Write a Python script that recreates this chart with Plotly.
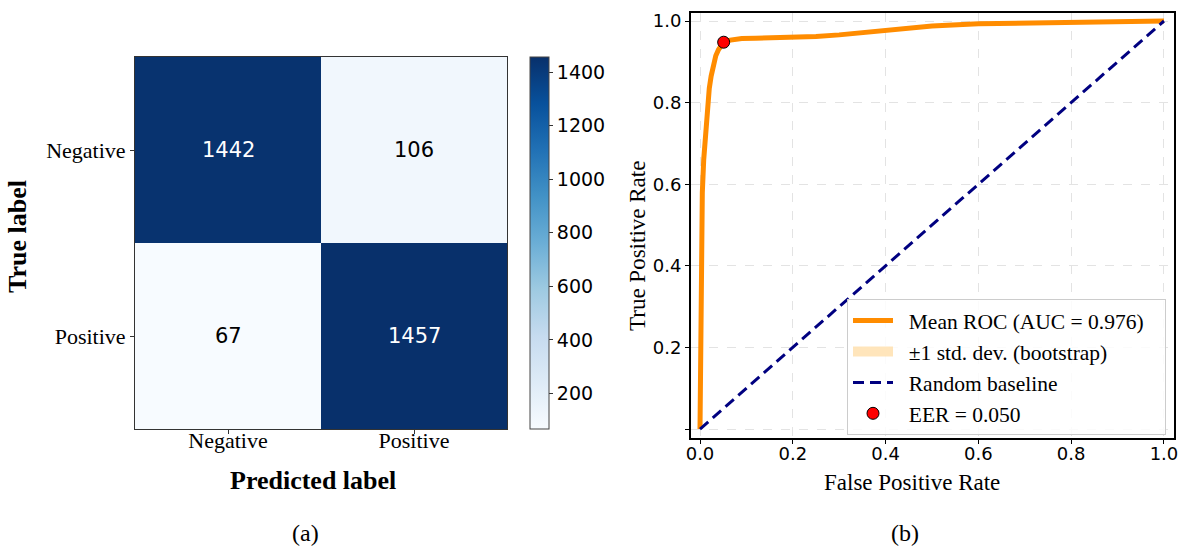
import plotly.graph_objects as go

# ---------------- data ----------------
classes = ["Negative", "Positive"]
conf_matrix = [[1442, 106],
               [67, 1457]]
cbar_ticks = [200, 400, 600, 800, 1000, 1200, 1400]

fpr = [0.0, 0.001, 0.002, 0.003, 0.005, 0.008, 0.011, 0.014, 0.017, 0.020, 0.024,
       0.029, 0.034, 0.040, 0.046, 0.051, 0.058, 0.070, 0.090, 0.12, 0.16, 0.20,
       0.25, 0.30, 0.35, 0.40, 0.45, 0.50, 0.60, 0.70, 0.80, 0.90, 1.0]
tpr_mean = [0.0, 0.15, 0.35, 0.48, 0.58, 0.66, 0.71, 0.76, 0.80, 0.835, 0.865,
            0.895, 0.915, 0.930, 0.941, 0.948, 0.952, 0.955, 0.957, 0.958, 0.959, 0.960,
            0.962, 0.966, 0.972, 0.979, 0.984, 0.988, 0.993, 0.995, 0.996, 0.998, 1.0]
tpr_upper = [0.0, 0.16, 0.36, 0.49, 0.59, 0.67, 0.72, 0.77, 0.81, 0.843, 0.872,
             0.901, 0.920, 0.934, 0.944, 0.951, 0.955, 0.958, 0.960, 0.961, 0.962, 0.963,
             0.965, 0.969, 0.975, 0.982, 0.987, 0.990, 0.995, 0.997, 0.998, 0.999, 1.0]
tpr_lower = [0.0, 0.14, 0.34, 0.47, 0.57, 0.65, 0.70, 0.75, 0.79, 0.827, 0.858,
             0.889, 0.910, 0.926, 0.938, 0.945, 0.949, 0.952, 0.954, 0.955, 0.956, 0.957,
             0.959, 0.963, 0.969, 0.976, 0.981, 0.986, 0.991, 0.993, 0.994, 0.997, 1.0]
baseline = [0.0, 1.0]
eer_point = [0.051, 0.948]
auc_value = 0.976
eer_value = 0.050
roc_ticks = [0.0, 0.2, 0.4, 0.6, 0.8, 1.0]

# ---------------- figure ----------------
W, H = 1182, 548
serif = "Liberation Serif, Times New Roman, serif"
sans = "DejaVu Sans, sans-serif"
band_color = "rgba(255,222,170,0.8)"
lead = "\u00a0\u00a0"
trail = "\u00a0\u00a0\u00a0"

fig = go.Figure()

fig.add_trace(go.Heatmap(
    z=conf_matrix, x=classes, y=classes,
    colorscale="Blues", zmin=67, zmax=1457,
    xaxis="x", yaxis="y", showscale=True,
    colorbar=dict(
        x=530 / W, xanchor="left", xpad=0, ypad=0,
        y=1 - 429 / H, yanchor="bottom", len=372 / H, lenmode="fraction",
        thickness=19, thicknessmode="pixels",
        outlinecolor="#444444", outlinewidth=1,
        tickvals=cbar_ticks, ticks="outside", ticklen=4, tickcolor="#333",
        tickfont=dict(family=sans, size=19, color="black"),
    ),
    hoverinfo="skip", showlegend=False,
))

thresh = (max(max(r) for r in conf_matrix) + min(min(r) for r in conf_matrix)) / 2
for i, row in enumerate(conf_matrix):
    for j, v in enumerate(row):
        fig.add_annotation(
            x=classes[j], y=classes[i], xref="x", yref="y", text=str(v),
            showarrow=False,
            font=dict(family=sans, size=21, color="white" if v > thresh else "black"),
        )

# ROC panel
fig.add_trace(go.Scatter(
    x=fpr, y=tpr_lower, mode="lines", line=dict(width=0, color="rgba(0,0,0,0)"),
    xaxis="x2", yaxis="y2", showlegend=False, hoverinfo="skip",
))
fig.add_trace(go.Scatter(
    x=fpr, y=tpr_upper, mode="lines", line=dict(width=0, color="rgba(0,0,0,0)"),
    fill="tonexty", fillcolor=band_color,
    xaxis="x2", yaxis="y2", showlegend=False, hoverinfo="skip",
))
fig.add_trace(go.Scatter(
    x=fpr, y=tpr_mean, mode="lines", line=dict(width=5, color="#ff8c00"),
    xaxis="x2", yaxis="y2", name=f"{lead}Mean ROC (AUC = {auc_value:.3f}){trail}",
))
# legend entry for the std band
fig.add_trace(go.Scatter(
    x=[None], y=[None], mode="lines", line=dict(width=14, color=band_color),
    xaxis="x2", yaxis="y2", name=f"{lead}±1 std. dev. (bootstrap)",
))
fig.add_trace(go.Scatter(
    x=baseline, y=baseline, mode="lines",
    line=dict(width=3, color="#000080", dash="11px,6px"),
    xaxis="x2", yaxis="y2", name=f"{lead}Random baseline",
))
fig.add_trace(go.Scatter(
    x=[eer_point[0]], y=[eer_point[1]], mode="markers",
    marker=dict(size=12, color="red", line=dict(color="black", width=1)),
    xaxis="x2", yaxis="y2", name=f"{lead}EER = {eer_value:.3f}",
))

fig.update_layout(
    width=W, height=H,
    margin=dict(l=0, r=0, t=0, b=0, pad=0, autoexpand=False),
    paper_bgcolor="white", plot_bgcolor="white",
    xaxis=dict(
        domain=[135 / W, 507 / W], anchor="y", automargin=False,
        showline=True, linecolor="#333", linewidth=1, mirror=True,
        ticks="outside", ticklen=4, tickcolor="#333",
        ticklabelstandoff=-12,
        tickfont=dict(family=serif, size=22, color="black"),
        showgrid=False, zeroline=False,
    ),
    yaxis=dict(
        domain=[1 - 429 / H, 1 - 57 / H], anchor="x", automargin=False,
        autorange="reversed",
        showline=True, linecolor="#333", linewidth=1, mirror=True,
        ticks="outside", ticklen=4, tickcolor="#333",
        tickfont=dict(family=serif, size=22, color="black"),
        showgrid=False, zeroline=False,
    ),
    xaxis2=dict(
        domain=[691 / W, 1174 / W], anchor="y2", automargin=False,
        range=[-0.0194, 1.0216],
        tickvals=roc_ticks, ticktext=[f"{t:.1f}" for t in roc_ticks],
        showline=True, linecolor="black", linewidth=2, mirror=True,
        ticks="outside", ticklen=4, tickcolor="black",
        ticklabelstandoff=-6,
        tickfont=dict(family=sans, size=18, color="black"),
        showgrid=True, gridcolor="#e3e3e3", griddash="dash", gridwidth=1,
        zeroline=False,
    ),
    yaxis2=dict(
        domain=[1 - 438 / H, 1 - 13 / H], anchor="x2", automargin=False,
        range=[-0.022, 1.0196],
        tickvals=roc_ticks, ticktext=[""] + [f"{t:.1f}" for t in roc_ticks[1:]],
        showline=True, linecolor="black", linewidth=2, mirror=True,
        ticks="outside", ticklen=4, tickcolor="black",
        tickfont=dict(family=sans, size=18, color="black"),
        showgrid=True, gridcolor="#e3e3e3", griddash="dash", gridwidth=1,
        zeroline=False,
    ),
    legend=dict(
        x=847 / W, y=1 - 299 / H, xanchor="left", yanchor="top",
        bgcolor="rgba(255,255,255,0.85)", bordercolor="#cccccc", borderwidth=1,
        font=dict(family=serif, size=21.5, color="black"),
        traceorder="normal", itemwidth=40,
    ),
    showlegend=True,
)

# axis titles and panel labels (paper coordinates)
titles = [
    ("<b>Predicted label</b>", 313, 480, 0, 26),
    ("<b>True label</b>", 17, 237, -90, 26),
    ("False Positive Rate", 912, 482, 0, 23),
    ("True Positive Rate", 638, 246, -90, 23),
    ("(a)", 305, 533, 0, 24),
    ("(b)", 905, 533, 0, 24),
]
for text, px, py, ang, fs in titles:
    fig.add_annotation(x=px / W, y=1 - py / H, xref="paper", yref="paper",
                       xanchor="center", yanchor="middle", textangle=ang,
                       text=text, showarrow=False,
                       font=dict(family=serif, size=fs, color="black"))

fig.write_html("out.html",
               config={"displayModeBar": False},
               post_script="document.body.style.margin='0px';"
                           "document.body.style.overflow='hidden';")
